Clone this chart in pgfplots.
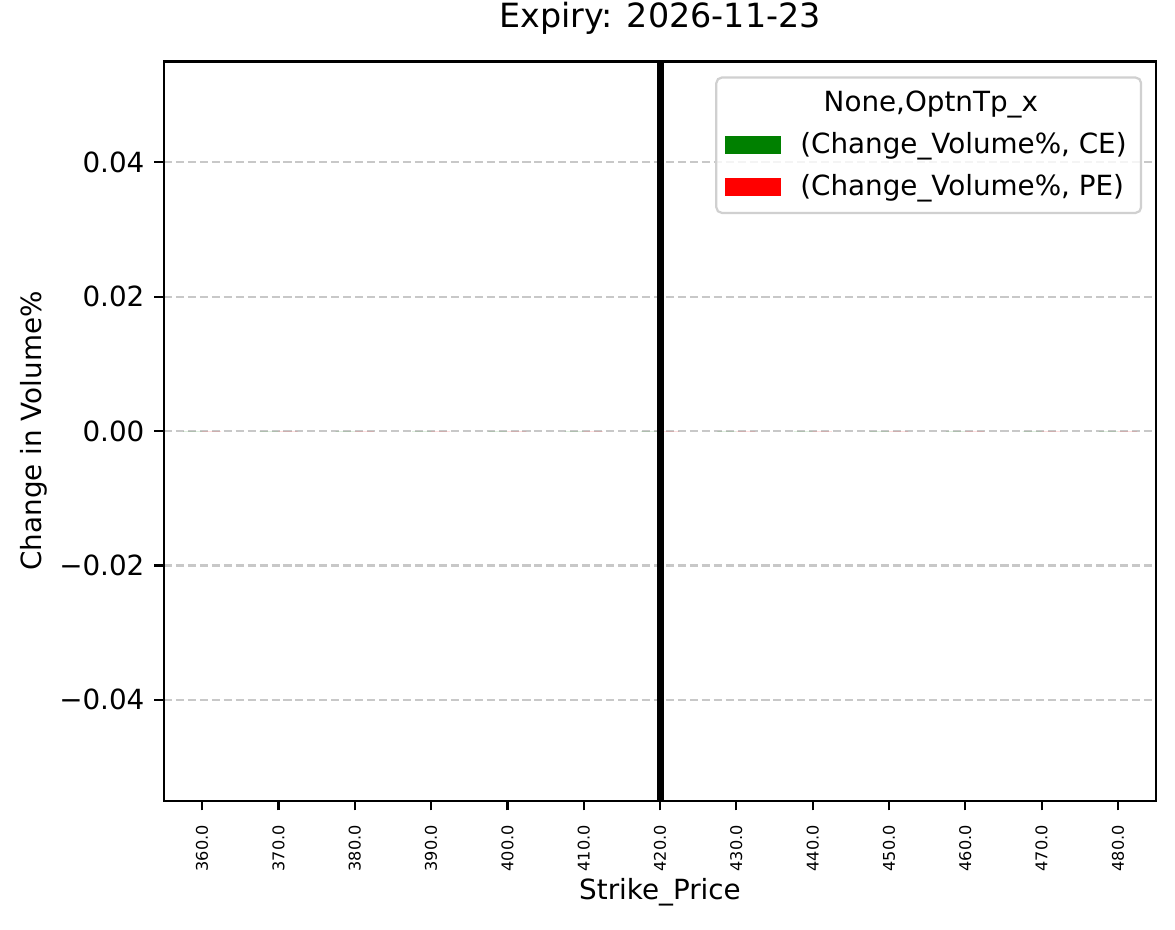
\documentclass[border=0pt]{standalone}
\usepackage{pgfplots}
\pgfplotsset{compat=1.18}
\usepackage{pgfplotstable}
\usepackage{fontspec}
\setmainfont{DejaVu Sans}

\definecolor{ceGreen}{HTML}{008000}
\definecolor{peRed}{HTML}{FF0000}
\definecolor{gridgray}{HTML}{C8C8C8}
\definecolor{legframe}{HTML}{D0D0D0}

% change in volume % per strike (index 0..12 -> 360..480), all zero
\pgfplotstableread{
idx CE PE
0  0 0
1  0 0
2  0 0
3  0 0
4  0 0
5  0 0
6  0 0
7  0 0
8  0 0
9  0 0
10 0 0
11 0 0
12 0 0
}\voldata

\begin{document}
\begin{tikzpicture}
\path[use as bounding box] (-59pt,-46.3pt) rectangle (363.8pt,288.1pt);
\begin{axis}[
    at={(0,0)}, anchor=south west,
    scale only axis, width=357pt, height=266pt,
    xmin=-0.5, xmax=12.5,
    ymin=-0.055, ymax=0.055,
    scaled y ticks=false,
    xtick={0,1,2,3,4,5,6,7,8,9,10,11,12},
    xticklabels={360.0,370.0,380.0,390.0,400.0,410.0,420.0,430.0,440.0,450.0,460.0,470.0,480.0},
    xticklabel style={rotate=90, anchor=east, xshift=-1.8pt, font=\fontsize{5.8}{7}\selectfont},
    ytick={-0.04,-0.02,0,0.02,0.04},
    yticklabels={−0.04,−0.02,0.00,0.02,0.04},
    tick align=outside,
    major tick length=3.5pt,
    tick style={black, line width=0.8pt},
    xtick pos=bottom, ytick pos=left,
    axis line style={line width=0.8pt},
    ymajorgrids=true,
    grid style={gridgray, line width=0.8pt, dash pattern=on 2.9pt off 1.4pt},
    title={Expiry: 2026-11-23},
    title style={at={(axis description cs:0.5,1)}, anchor=center, yshift=9.4pt, font=\fontsize{12}{14}\selectfont},
    xlabel={Strike\_Price},
    xlabel style={at={(axis description cs:0.5,0)}, anchor=center, yshift=-33pt},
    ylabel={Change in Volume\%},
    ylabel style={at={(axis description cs:0,0.5)}, anchor=center, yshift=47pt},
    ybar=0pt, bar width=0.25,
    legend image code/.code={\fill[#1, sharp corners, fill opacity=1] (0pt,-3.1pt) rectangle (20pt,3.1pt);},
    legend cell align=left,
    legend style={
        at={(axis description cs:1,1)}, anchor=north east,
        xshift=-5pt, yshift=-5.4pt,
        draw=legframe, line width=0.8pt, rounded corners=2pt,
        fill=white, fill opacity=0.8, text opacity=1,
        inner xsep=3.2pt, inner ysep=2.8pt, row sep=2pt,
        /tikz/every odd column/.append style={column sep=5pt},
    },
]
\addlegendimage{empty legend}
\addlegendentry{\hspace*{47pt}\makebox[0pt][c]{None,OptnTp\_x}}
\addplot[fill=ceGreen, draw=none] table[x=idx, y=CE] {\voldata};
\addlegendentry{(Change\_Volume\%, CE)}
\addplot[fill=peRed, draw=none] table[x=idx, y=PE] {\voldata};
\addlegendentry{(Change\_Volume\%, PE)}
\addplot[sharp plot, black, line width=2.5pt, forget plot] coordinates {(6,-0.055) (6,0.055)};
\end{axis}
\end{tikzpicture}
\end{document}
